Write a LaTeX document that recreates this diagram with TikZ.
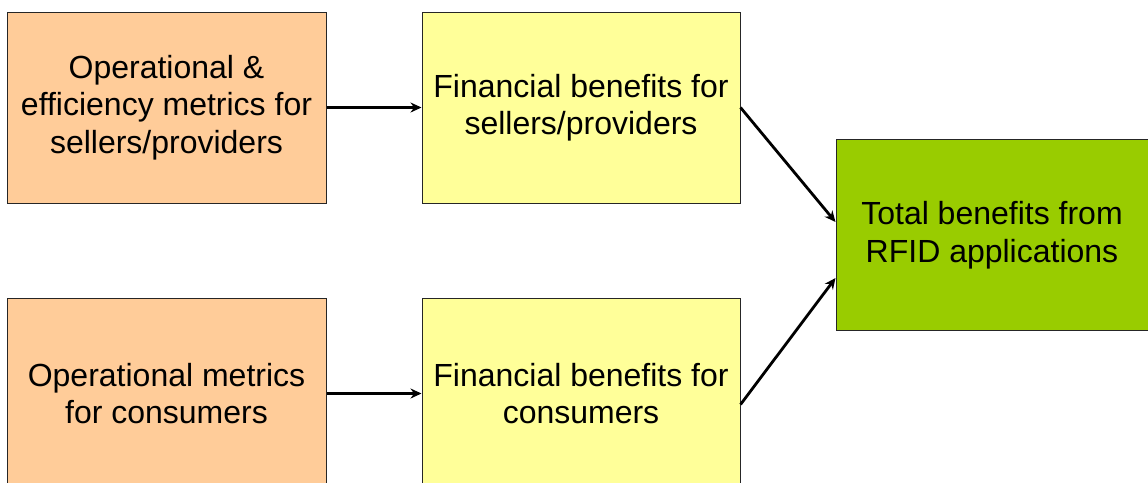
\documentclass[tikz,border=0pt]{standalone}
\usepackage{fontspec}
\setmainfont{Liberation Sans}
\usetikzlibrary{arrows.meta}
\definecolor{boxorange}{HTML}{FFCC99}
\definecolor{boxyellow}{HTML}{FFFF99}
\definecolor{boxgreen}{HTML}{99CC00}
\begin{document}
\begin{tikzpicture}[x=1pt,y=-1pt,
  box/.style={draw=black!85,line width=1pt,inner sep=0pt,align=center,
    font=\fontsize{32}{37.5}\selectfont},
  conn/.style={line width=2.8pt,-{Stealth[length=11pt,width=10pt]}}]
\useasboundingbox (0,0) rectangle (1148,482);
\clip (0,0) rectangle (1148,482);
\fill[white] (0,0) rectangle (1148,482);
\node[box,fill=boxorange,minimum width=319pt,minimum height=191pt] (a) at (166.5,107.5)
  {Operational \&\\efficiency metrics for\\ sellers/providers};
\node[box,fill=boxyellow,minimum width=318pt,minimum height=191pt] (b) at (581,107.5)
  {Financial benefits for\\sellers/providers};
\node[box,fill=boxorange,minimum width=319pt,minimum height=191pt] (c) at (166.5,393.5)
  {Operational metrics\\for consumers};
\node[box,fill=boxyellow,minimum width=318pt,minimum height=191pt] (d) at (581,393.5)
  {Financial benefits for\\consumers};
\node[box,fill=boxgreen,minimum width=312pt,minimum height=191pt] (e) at (992,235)
  {Total benefits from\\RFID applications};
\draw[conn] (a.east) -- (b.west);
\draw[conn] (c.east) -- (d.west);
\draw[conn] (b.east) -- ([yshift=13pt]e.west);
\draw[conn] ([yshift=-11pt]d.east) -- ([yshift=-43pt]e.west);
\end{tikzpicture}
\end{document}
